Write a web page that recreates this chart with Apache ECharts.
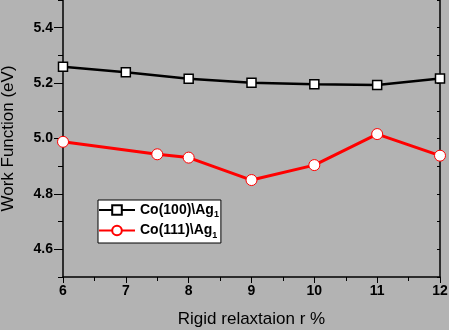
<!DOCTYPE html>
<html>
<head>
<meta charset="utf-8">
<script src="https://cdn.jsdelivr.net/npm/echarts@6/dist/echarts.min.js"></script>
<style>
  html, body { margin: 0; padding: 0; background: #b3b3b3; }
  #chart { width: 449px; height: 330px; }
</style>
</head>
<body>
<div id="chart"></div>
<script>
// Work function vs. rigid relaxation for two Co surfaces with one Ag layer
const co100X = [6, 7, 8, 9, 10, 11, 12];
const co100Y = [5.259, 5.239, 5.216, 5.201, 5.196, 5.193, 5.217];
const co111X = [6, 7.5, 8, 9, 10, 11, 12];
const co111Y = [4.988, 4.943, 4.931, 4.850, 4.904, 5.016, 4.938];
const seriesNames = ['Co(100)\\Ag1', 'Co(111)\\Ag1'];
const yMajorTicks = [4.6, 4.8, 5.0, 5.2, 5.4];

const pairs = (xs, ys) => xs.map((x, i) => [x, ys[i]]);
const font = 'Liberation Sans, Arial, sans-serif';

const chart = echarts.init(document.getElementById('chart'));
chart.setOption({
  backgroundColor: '#b3b3b3',
  animation: false,
  grid: { left: 63, right: 9, top: 0, bottom: 53, containLabel: false, outerBoundsMode: 'none' },
  legend: {
    left: 98, top: 200,
    orient: 'vertical',
    backgroundColor: '#ffffff',
    borderColor: '#000000',
    borderWidth: 1,
    borderRadius: 0,
    padding: [3, 2, 3, 0],
    itemGap: 4,
    itemWidth: 36,
    itemHeight: 12,
    data: seriesNames,
    formatter: name => name.replace(/1$/, '') + '{sub|1}',
    textStyle: {
      fontFamily: font, fontSize: 14, fontWeight: 'bold', color: '#000',
      rich: {
        sub: { fontFamily: font, fontSize: 9, fontWeight: 'bold', color: '#000', padding: [10, 0, 0, 0] }
      }
    }
  },
  xAxis: {
    type: 'value', min: 6, max: 12, interval: 1,
    name: 'Rigid relaxtaion r %', nameLocation: 'middle', nameGap: 34,
    nameTextStyle: { fontFamily: font, fontSize: 17, color: '#000' },
    axisLine: { onZero: false, lineStyle: { color: '#000', width: 1.5 } },
    axisTick: { inside: false, length: 6, lineStyle: { color: '#000' } },
    minorTick: { show: true, splitNumber: 2, length: 4, lineStyle: { color: '#000' } },
    axisLabel: { fontFamily: font, fontSize: 14, fontWeight: 'bold', color: '#000', margin: 7 },
    splitLine: { show: false }
  },
  yAxis: [{
    type: 'value', min: 4.5, max: 5.5, interval: 0.1,
    name: 'Work Function (eV)', nameLocation: 'middle', nameGap: 46,
    nameTextStyle: { fontFamily: font, fontSize: 17, color: '#000' },
    axisLine: { show: true, onZero: false, lineStyle: { color: '#000', width: 1.5 } },
    axisTick: { inside: false, length: 9, customValues: yMajorTicks, lineStyle: { color: '#000' } },
    axisLabel: {
      fontFamily: font, fontSize: 14, fontWeight: 'bold', color: '#000', margin: 10,
      customValues: yMajorTicks,
      formatter: v => v.toFixed(1)
    },
    splitLine: { show: false }
  }, {
    // minor ticks every 0.1 on the left side
    type: 'value', position: 'left', min: 4.5, max: 5.5, interval: 0.1,
    axisLine: { show: false },
    axisTick: { show: true, inside: false, length: 5, lineStyle: { color: '#000' } },
    axisLabel: { show: false },
    splitLine: { show: false }
  }, {
    type: 'value', position: 'right', min: 4.5, max: 5.5, interval: 0.1,
    axisLine: { show: true, onZero: false, lineStyle: { color: '#000', width: 1.5 } },
    axisTick: { show: true, inside: true, length: 3, lineStyle: { color: '#000' } },
    axisLabel: { show: false },
    splitLine: { show: false }
  }],
  series: [{
    name: seriesNames[0], type: 'line',
    data: pairs(co100X, co100Y),
    symbol: 'rect', symbolSize: 9,
    itemStyle: { color: '#ffffff', borderColor: '#000000', borderWidth: 1.5 },
    lineStyle: { color: '#000000', width: 2.5 },
    z: 3
  }, {
    name: seriesNames[1], type: 'line',
    data: pairs(co111X, co111Y),
    symbol: 'circle', symbolSize: 11,
    itemStyle: { color: '#ffffff', borderColor: '#ff0000', borderWidth: 1 },
    lineStyle: { color: '#ff0000', width: 3 },
    z: 2
  }]
});
</script>
</body>
</html>
